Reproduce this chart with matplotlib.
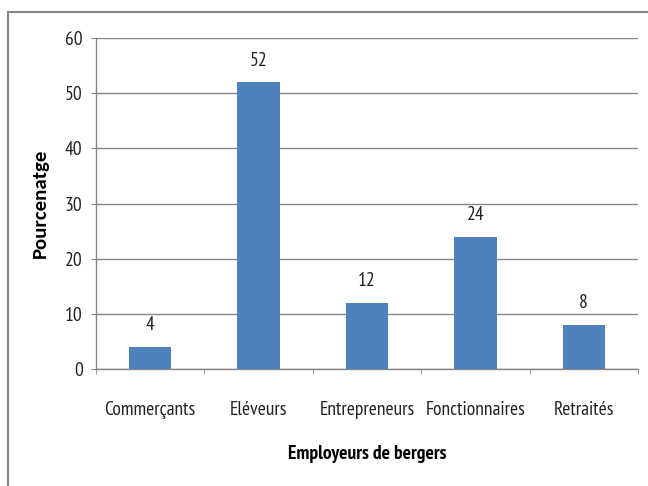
import numpy as np
import matplotlib
matplotlib.use('Agg')
from matplotlib import pyplot as plt
from matplotlib.lines import Line2D

categories = ['Commerçants', 'Eléveurs', 'Entrepreneurs', 'Fonctionnaires', 'Retraités']
values = [4, 52, 12, 24, 8]
yticks = [0, 10, 20, 30, 40, 50, 60]

plt.rcParams['font.family'] = ['PT Sans Narrow', 'Carlito', 'DejaVu Sans']
grey = '#868686'
fs = 14

fig = plt.figure(figsize=(6.48, 4.86), dpi=100)
ax = fig.add_axes([96 / 648, 1 - 369 / 486, 542 / 648, 331 / 486])

x = np.arange(len(categories))
ax.bar(x, values, width=0.39, color='#4F81BD', zorder=3)
for xi, v in zip(x, values):
    ax.annotate(str(v), (xi, v), xytext=(0, 9), textcoords='offset points',
                ha='center', va='bottom', fontsize=fs, color='#222222')

ax.set_xlim(-0.5, len(categories) - 0.5)
ax.set_ylim(0, 60)
ax.set_yticks(yticks)
ax.set_xticks(x)
ax.set_xticklabels(categories, fontsize=fs, color='#222222')
ax.set_xticks(np.arange(len(categories) + 1) - 0.5, minor=True)
ax.tick_params(axis='x', which='major', length=0, pad=23)
ax.tick_params(axis='x', which='minor', length=3.6, color=grey, direction='out')
ax.tick_params(axis='y', length=3.6, color=grey, labelsize=fs, labelcolor='#222222', pad=6)
ax.grid(axis='y', color=grey, linewidth=1, zorder=0)

for s in ['top', 'right']:
    ax.spines[s].set_visible(False)
for s in ['left', 'bottom']:
    ax.spines[s].set_color(grey)
    ax.spines[s].set_linewidth(1)

ax.set_xlabel('Employeurs de bergers', fontsize=fs, fontweight='bold', labelpad=19)
ax.set_ylabel('Pourcenatge', fontsize=15, fontweight='bold', family=['Carlito', 'DejaVu Sans'],
              va='center')
ax.yaxis.set_label_coords(-0.103, 0.5)

# chart border (only left and top edges are visible)
fig.add_artist(Line2D([8 / 648, 8 / 648], [0, 1 - 12 / 486], transform=fig.transFigure,
                      color=grey, linewidth=1.5))
fig.add_artist(Line2D([8 / 648, 1], [1 - 12 / 486, 1 - 12 / 486], transform=fig.transFigure,
                      color=grey, linewidth=1.5))

fig.savefig('out.png', dpi=100)
